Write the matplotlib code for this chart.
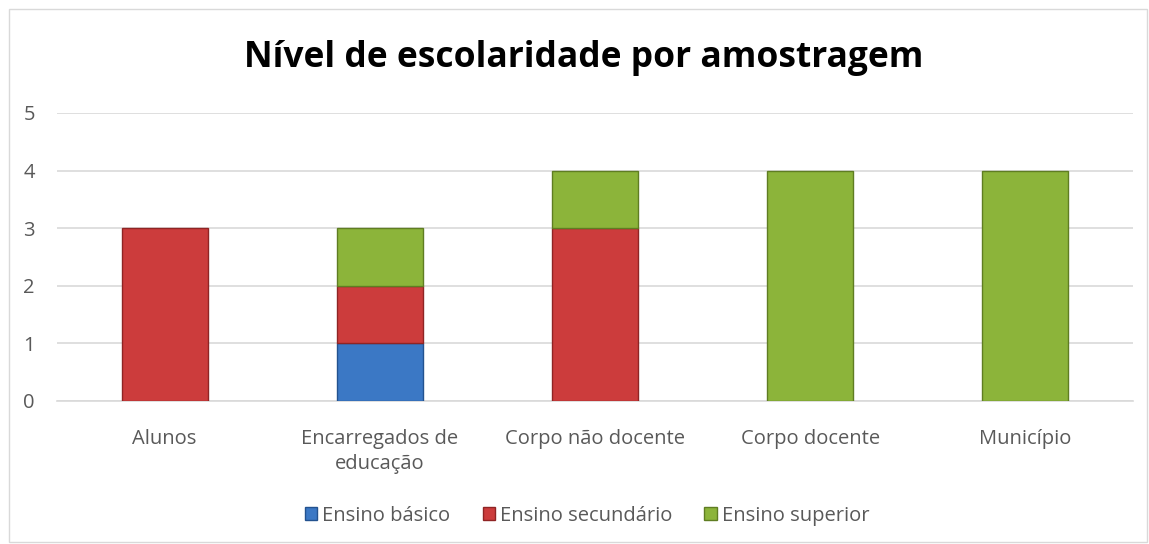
import matplotlib.pyplot as plt
import numpy as np
from matplotlib.patches import Rectangle, Patch

categories = ["Alunos", "Encarregados de\neducação", "Corpo não docente",
              "Corpo docente", "Município"]
basico = [0, 1, 0, 0, 0]
secundario = [3, 1, 3, 0, 0]
superior = [0, 1, 1, 4, 4]
series_names = ["Ensino básico", "Ensino secundário", "Ensino superior"]
colors = ["#3b78c5", "#cc3c3c", "#8cb43a"]
edges = ["#23528f", "#8f2424", "#5f7d22"]

plt.rcParams["font.family"] = ["Open Sans", "DejaVu Sans"]

fig = plt.figure(figsize=(11.49, 5.44), dpi=100)
ax = fig.add_axes([0.0496, 0.2629, 0.9364, 0.5294])

x = np.arange(len(categories))
bottom = np.zeros(len(categories))
handles = []
for vals, name, c, ec in zip([basico, secundario, superior], series_names, colors, edges):
    vals = np.array(vals)
    bars = ax.bar(x, vals, 0.4, bottom=bottom, color=c, edgecolor=ec, linewidth=1.0,
                  zorder=3)
    # hide zero-height segments so no stray edge lines show
    for b, v in zip(bars, vals):
        if v == 0:
            b.set_visible(False)
    bottom += vals
    handles.append(Patch(facecolor=c, edgecolor=ec, label=name))

ax.set_xlim(-0.5, len(categories) - 0.5)
ax.set_ylim(0, 5)
ax.set_yticks(range(6))
ax.yaxis.grid(True, color="#d9d9d9", linewidth=1.2, zorder=0)
ax.set_xticks(x)
ax.set_xticklabels(categories, fontsize=14.5, color="#595959", linespacing=1.35)
ax.tick_params(axis="y", labelsize=14.5, colors="#595959", length=0, pad=16)
ax.tick_params(axis="x", length=0, pad=20)
for s in ["top", "right", "left"]:
    ax.spines[s].set_visible(False)
ax.spines["bottom"].set_color("#d9d9d9")
ax.spines["bottom"].set_linewidth(1.2)

fig.text(0.508, 0.893, "Nível de escolaridade por amostragem", ha="center",
         va="center", fontsize=25.5, fontweight="bold", color="black")

leg = fig.legend(handles=handles, loc="center", bbox_to_anchor=(0.511, 0.052), ncol=3,
                 frameon=False, fontsize=14.5, handlelength=0.6, handleheight=0.6,
                 handletextpad=0.25, columnspacing=1.6)
for t in leg.get_texts():
    t.set_color("#595959")

fig.patches.append(Rectangle((0.008, 0.004), 0.99, 0.98, transform=fig.transFigure,
                             fill=False, edgecolor="#d9d9d9", linewidth=1.0))

fig.savefig("out.png", dpi=100)
